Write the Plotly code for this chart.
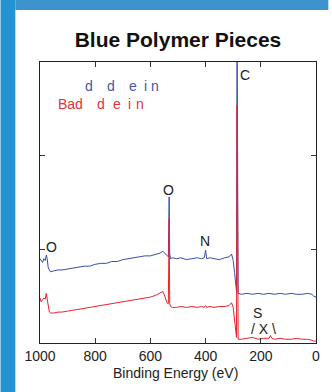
import plotly.graph_objects as go

# ---- data (binding energy in eV, intensity in arbitrary units) ----
blue_ev = [1000, 996, 991, 986, 981, 977, 974, 970, 966, 962, 950, 935, 920, 900, 880,
           860, 840, 820, 800, 780, 760, 740, 720, 700, 680, 660, 640, 620, 600, 580,
           565, 555, 548, 540, 535, 532, 530, 527, 520, 505, 490, 470, 450, 430, 415,
           405, 400, 396, 385, 370, 350, 330, 315, 306, 300, 295, 291, 288, 286, 284,
           282, 270, 250, 230, 210, 190, 170, 150, 130, 110, 90, 70, 50, 30, 15,
           8, 0]
blue_int = [0.90, 0.88, 0.86, 0.90, 0.88, 0.94, 0.90, 0.80, 0.78, 0.76, 0.77, 0.78, 0.78, 0.79, 0.80,
            0.81, 0.82, 0.82, 0.84, 0.85, 0.85, 0.87, 0.87, 0.89, 0.90, 0.91, 0.92, 0.93, 0.93, 0.95,
            0.96, 0.98, 0.96, 0.93, 0.92, 1.56, 0.95, 0.90, 0.91, 0.90, 0.91, 0.89, 0.90, 0.91, 0.90,
            0.91, 0.99, 0.90, 0.91, 0.90, 0.89, 0.91, 0.92, 0.95, 0.88, 0.75, 0.62, 0.55, 3.40, 0.56,
            0.53, 0.52, 0.53, 0.52, 0.53, 0.52, 0.53, 0.52, 0.53, 0.52, 0.53, 0.52, 0.52, 0.53, 0.52,
            0.50, 0.49]

red_ev = [1000, 996, 991, 986, 981, 977, 974, 970, 966, 962, 950, 935, 920, 900, 880,
          860, 840, 820, 800, 780, 760, 740, 720, 700, 680, 660, 640, 620, 600, 580,
          565, 555, 548, 540, 535, 532, 530, 527, 520, 505, 490, 470, 450, 430, 415,
          405, 400, 396, 385, 370, 350, 330, 315, 306, 300, 295, 291, 288, 286, 284,
          282, 270, 250, 230, 210, 190, 170, 165, 160, 150, 130, 110, 90, 70, 50,
          30, 15, 8, 0]
red_int = [0.48, 0.44, 0.46, 0.48, 0.47, 0.53, 0.47, 0.38, 0.33, 0.32, 0.32, 0.33, 0.33, 0.34, 0.35,
           0.36, 0.37, 0.38, 0.39, 0.40, 0.41, 0.42, 0.43, 0.44, 0.45, 0.46, 0.47, 0.48, 0.49, 0.51,
           0.53, 0.55, 0.50, 0.43, 0.42, 1.33, 0.42, 0.39, 0.38, 0.38, 0.39, 0.38, 0.39, 0.38, 0.39,
           0.38, 0.40, 0.38, 0.39, 0.38, 0.39, 0.39, 0.40, 0.43, 0.38, 0.25, 0.12, 0.06, 2.54, 0.06,
           0.04, 0.04, 0.05, 0.06, 0.04, 0.05, 0.05, 0.08, 0.05, 0.04, 0.05, 0.04, 0.04, 0.05, 0.04,
           0.04, 0.03, 0.02, 0.02]

x_ticks = [1000, 800, 600, 400, 200, 0]

# peak labels: (text, eV, intensity)
peak_labels = [("C", 256, 2.86), ("O", 535, 1.63), ("N", 402, 1.09),
               ("O", 960, 1.03), ("S", 213, 0.32), ("/ X \\", 190, 0.15)]

# legend text fragments and their left edges (paper x)
legend_blue = ["d", "d", "e", "i", "n"]
legend_blue_x = [0.161, 0.240, 0.318, 0.372, 0.397]
legend_red = ["Bad", "d", "e", "i", "n"]
legend_red_x = [0.061, 0.204, 0.261, 0.315, 0.343]

BLUE = "#3a4ea8"
RED = "#e8222c"
FONT = "Liberation Sans, Arial, sans-serif"
BG_LEFT = "#2493d3"
BG_TOP = "#3d93cb"

fig = go.Figure()
fig.add_trace(go.Scatter(x=blue_ev, y=blue_int, mode="lines",
                         line=dict(color=BLUE, width=1), showlegend=False))
fig.add_trace(go.Scatter(x=red_ev, y=red_int, mode="lines",
                         line=dict(color=RED, width=1), showlegend=False))

# blue frame around the white panel (left and top strips)
fig.add_shape(type="rect", xref="paper", yref="paper",
              x0=-0.1431, x1=-0.0894, y0=-0.1744, y1=1.2206,
              fillcolor=BG_LEFT, line=dict(width=0), layer="below")
fig.add_shape(type="rect", xref="paper", yref="paper",
              x0=-0.0894, x1=1.0447, y0=1.185, y1=1.2206,
              fillcolor=BG_TOP, line=dict(width=0), layer="below")

for t, xv, yv in peak_labels:
    fig.add_annotation(x=xv, y=yv, xref="x", yref="y", text=t, showarrow=False,
                       font=dict(family=FONT, size=14, color="#222222"),
                       xanchor="center", yanchor="middle")

for t, xp in zip(legend_blue, legend_blue_x):
    fig.add_annotation(x=xp, y=0.915, xref="paper", yref="paper", text=t, showarrow=False,
                       font=dict(family=FONT, size=14, color="#4355ad"),
                       xanchor="left", yanchor="middle", borderpad=0)
for t, xp in zip(legend_red, legend_red_x):
    fig.add_annotation(x=xp, y=0.851, xref="paper", yref="paper", text=t, showarrow=False,
                       font=dict(family=FONT, size=14, color="#e8303a"),
                       xanchor="left", yanchor="middle", borderpad=0)

fig.add_annotation(x=0.492, y=-0.105, xref="paper", yref="paper",
                   text="Binding Energy (eV)", showarrow=False,
                   font=dict(family=FONT, size=14, color="#222222"),
                   xanchor="center", yanchor="middle", borderpad=0)

fig.update_layout(
    width=332, height=392,
    margin=dict(l=40, r=12.5, t=62, b=49),
    paper_bgcolor="white",
    plot_bgcolor="rgba(0,0,0,0)",
    title=dict(text="<b>Blue Polymer Pieces</b>", x=0.5, xref="paper",
               y=1 - 40 / 392, yanchor="middle",
               font=dict(family=FONT, size=21, color="#111111")),
    xaxis=dict(range=[1000, 0], tickvals=x_ticks, ticks="inside", ticklen=5,
               tickcolor="#333", showline=True, linecolor="#222", linewidth=1,
               mirror="ticks", showgrid=False, zeroline=False,
               tickfont=dict(family=FONT, size=14, color="#222222")),
    yaxis=dict(range=[0, 3], dtick=1, ticks="inside", ticklen=5, tickcolor="#333",
               showline=True, linecolor="#222", linewidth=1, mirror="ticks",
               showgrid=False, zeroline=False, showticklabels=False),
)

fig.write_html("out.html")
